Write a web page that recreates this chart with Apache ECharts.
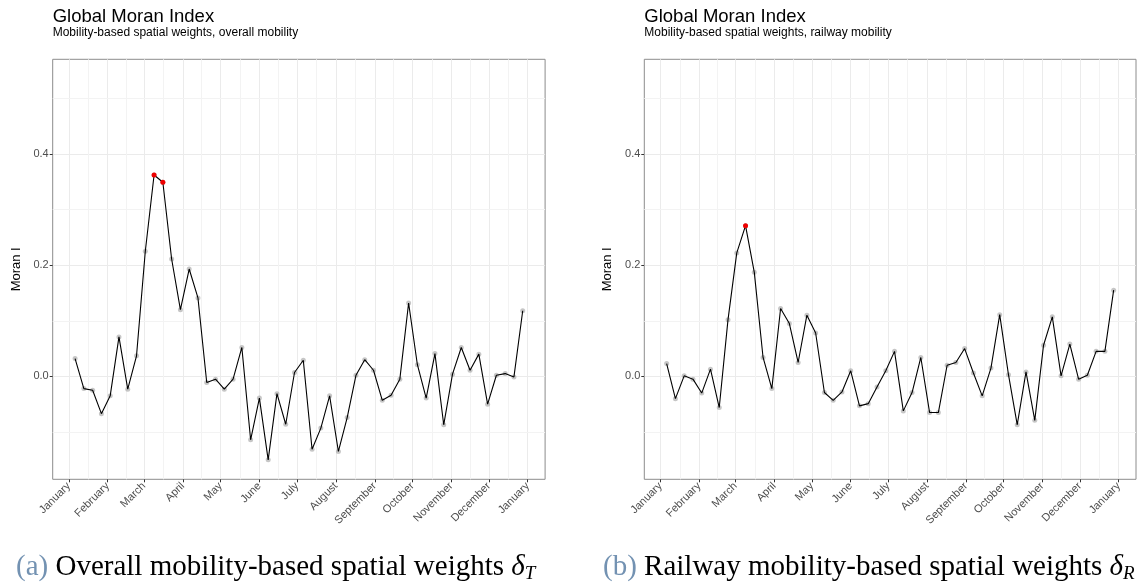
<!DOCTYPE html>
<html>
<head>
<meta charset="utf-8">
<script src="https://cdn.jsdelivr.net/npm/echarts@6/dist/echarts.min.js"></script>
<style>
  html, body { margin: 0; padding: 0; background: #ffffff; }
  #chart { width: 1137px; height: 588px; }
</style>
</head>
<body>
<div id="chart"></div>
<script>
// Weekly observation dates (Mondays of 2020)
const weeks = [
  '2020-01-06','2020-01-13','2020-01-20','2020-01-27',
  '2020-02-03','2020-02-10','2020-02-17','2020-02-24',
  '2020-03-02','2020-03-09','2020-03-16','2020-03-23','2020-03-30',
  '2020-04-06','2020-04-13','2020-04-20','2020-04-27',
  '2020-05-04','2020-05-11','2020-05-18','2020-05-25',
  '2020-06-01','2020-06-08','2020-06-15','2020-06-22','2020-06-29',
  '2020-07-06','2020-07-13','2020-07-20','2020-07-27',
  '2020-08-03','2020-08-10','2020-08-17','2020-08-24','2020-08-31',
  '2020-09-07','2020-09-14','2020-09-21','2020-09-28',
  '2020-10-05','2020-10-12','2020-10-19','2020-10-26',
  '2020-11-02','2020-11-09','2020-11-16','2020-11-23','2020-11-30',
  '2020-12-07','2020-12-14','2020-12-21','2020-12-28'
];

// Global Moran's I, overall mobility weights
const moranOverall = [
  0.032, -0.022, -0.025, -0.067, -0.035, 0.071, -0.023, 0.037, 0.225, 0.362,
  0.349, 0.211, 0.120, 0.193, 0.141, -0.011, -0.005, -0.023, -0.005, 0.052,
  -0.114, -0.039, -0.150, -0.031, -0.086, 0.007, 0.029, -0.131, -0.093, -0.035,
  -0.135, -0.074, 0.002, 0.030, 0.011, -0.043, -0.034, -0.005, 0.132, 0.021,
  -0.039, 0.041, -0.087, 0.004, 0.052, 0.011, 0.040, -0.050, 0.002, 0.005,
  -0.001, 0.118
];

// Global Moran's I, railway mobility weights
const moranRailway = [
  0.023, -0.040, 0.001, -0.005, -0.030, 0.013, -0.056, 0.102, 0.222, 0.271,
  0.187, 0.034, -0.022, 0.122, 0.095, 0.025, 0.110, 0.078, -0.029, -0.043,
  -0.028, 0.010, -0.053, -0.049, -0.019, 0.010, 0.045, -0.062, -0.029, 0.034,
  -0.065, -0.065, 0.020, 0.025, 0.050, 0.006, -0.035, 0.015, 0.111, 0.003,
  -0.087, 0.008, -0.079, 0.056, 0.107, 0.001, 0.058, -0.005, 0.002, 0.045,
  0.045, 0.155
];

// Weeks flagged in red
const overallFlagged = [9, 10];
const railwayFlagged = [9];

// Axis breaks
const monthStarts = [
  '2020-01-01','2020-02-01','2020-03-01','2020-04-01','2020-05-01','2020-06-01',
  '2020-07-01','2020-08-01','2020-09-01','2020-10-01','2020-11-01','2020-12-01',
  '2021-01-01'
];
const monthLabels = [
  'January','February','March','April','May','June','July','August',
  'September','October','November','December','January'
];
const yBreaks = [0, 0.2, 0.4];
const yMinorBreaks = [-0.1, 0.1, 0.3, 0.5];

const panelTitle = 'Global Moran Index';
const subtitles = [
  'Mobility-based spatial weights, overall mobility',
  'Mobility-based spatial weights, railway mobility'
];

// Dates are placed on a day-count scale (days since 2020-01-01)
const DAY = 86400000;
const origin = Date.parse('2020-01-01T00:00:00Z');
const toDay = s => (Date.parse(s + 'T00:00:00Z') - origin) / DAY;
const weekDay = weeks.map(toDay);
const monthDay = monthStarts.map(toDay);
const monthMid = monthDay.slice(0, -1).map((d, i) => (d + monthDay[i + 1]) / 2);

// x range padded by 5% on each side
const span = weekDay[weekDay.length - 1] - weekDay[0];
const xMin = weekDay[0] - 0.05 * span;
const xMax = weekDay[weekDay.length - 1] + 0.05 * span;
const yMin = -0.185, yMax = 0.57;

const grids = [
  { left: 52.7, top: 59.3, width: 492.4, height: 420 },
  { left: 644.3, top: 59.3, width: 491.7, height: 420 }
];

const gridColor = '#ebebeb';
const minorColor = '#f3f3f3';
const textGrey = '#4d4d4d';
const sans = 'Liberation Sans, Arial, Helvetica, sans-serif';
const serif = 'Liberation Serif, Times New Roman, serif';

function xAxisFor(i) {
  return {
    type: 'value', gridIndex: i, min: xMin, max: xMax,
    axisLine: { show: false, onZero: false },
    axisTick: { show: true, length: 3, lineStyle: { color: '#333333', width: 1 }, customValues: monthDay },
    axisLabel: {
      customValues: monthDay, rotate: 45, margin: 5,
      fontSize: 11, fontFamily: sans, color: textGrey,
      formatter: v => {
        const k = monthDay.indexOf(v);
        return k >= 0 ? monthLabels[k] : '';
      }
    },
    splitLine: { show: true, lineStyle: { color: gridColor, width: 1 } }
  };
}

function yAxisFor(i) {
  return {
    type: 'value', gridIndex: i, min: yMin, max: yMax,
    name: 'Moran I', nameLocation: 'middle', nameGap: 30, nameRotate: 90,
    nameTextStyle: { fontSize: 13, fontFamily: sans, color: '#000000' },
    axisLine: { show: false, onZero: false },
    axisTick: { show: true, length: 3, lineStyle: { color: '#333333', width: 1 }, customValues: yBreaks },
    axisLabel: {
      customValues: yBreaks, margin: 4, fontSize: 11, fontFamily: sans, color: textGrey,
      formatter: v => v.toFixed(1)
    },
    splitLine: { show: true, lineStyle: { color: gridColor, width: 1 } }
  };
}

function seriesFor(i, values, flagged) {
  const pts = weekDay.map((d, k) => [d, values[k]]);
  return [
    {
      type: 'line', xAxisIndex: i, yAxisIndex: i, data: [], silent: true, z: 0,
      markLine: {
        z: 0, silent: true, symbol: 'none', animation: false,
        label: { show: false },
        lineStyle: { color: minorColor, width: 1, type: 'solid' },
        data: monthMid.map(d => ({ xAxis: d })).concat(yMinorBreaks.map(v => ({ yAxis: v })))
      }
    },
    {
      type: 'scatter', xAxisIndex: i, yAxisIndex: i, data: pts, z: 2,
      symbolSize: 5,
      itemStyle: { color: 'rgba(160,160,160,0.6)', borderWidth: 0, opacity: 1 },
      animation: false
    },
    {
      type: 'line', xAxisIndex: i, yAxisIndex: i, data: pts, z: 3,
      showSymbol: false, lineStyle: { color: '#000000', width: 1.1 }, animation: false
    },
    {
      type: 'scatter', xAxisIndex: i, yAxisIndex: i, z: 5,
      data: flagged.map(k => pts[k]),
      symbolSize: 5, itemStyle: { color: '#ee0000', borderWidth: 0, opacity: 1 }, animation: false
    }
  ];
}

// Panel titles sit flush with each panel's left edge
const titles = [];
grids.forEach((g, i) => {
  titles.push({ text: panelTitle, left: g.left, top: 7, padding: 0,
    textStyle: { fontSize: 18.5, fontWeight: 'normal', fontFamily: sans, color: '#000000' } });
  titles.push({ text: subtitles[i], left: g.left, top: 27, padding: 0,
    textStyle: { fontSize: 12, fontWeight: 'normal', fontFamily: sans, color: '#000000' } });
});

// Sub-figure captions
const captionRich = {
  tag: { fontSize: 29, fontWeight: 'normal', fontFamily: serif, color: '#7392b2', lineHeight: 32, verticalAlign: 'middle' },
  body: { fontSize: 29, fontWeight: 'normal', fontFamily: serif, color: '#000000', lineHeight: 32, verticalAlign: 'middle' },
  sym: { fontSize: 29, fontWeight: 'normal', fontFamily: serif, fontStyle: 'italic', color: '#000000', lineHeight: 32, verticalAlign: 'middle' },
  sub: { fontSize: 19, fontWeight: 'normal', fontFamily: serif, fontStyle: 'italic', color: '#000000', lineHeight: 18, verticalAlign: 'bottom' }
};
titles.push({ text: '{tag|(a)}{body| Overall mobility-based spatial weights }{sym|δ}{sub|T}',
  left: 16, top: 551, padding: 0, textStyle: { fontWeight: 'normal', rich: captionRich } });
titles.push({ text: '{tag|(b)}{body| Railway mobility-based spatial weights }{sym|δ}{sub|R}',
  left: 603, top: 551, padding: 0, textStyle: { fontWeight: 'normal', rich: captionRich } });

const chart = echarts.init(document.getElementById('chart'), null, { renderer: 'canvas' });
chart.setOption({
  animation: false,
  backgroundColor: '#ffffff',
  title: titles,
  grid: grids.map(g => Object.assign({ show: true, borderColor: '#8c8c8c', borderWidth: 1,
    backgroundColor: 'transparent', containLabel: false, outerBoundsMode: 'none' }, g)),
  xAxis: [xAxisFor(0), xAxisFor(1)],
  yAxis: [yAxisFor(0), yAxisFor(1)],
  series: seriesFor(0, moranOverall, overallFlagged).concat(seriesFor(1, moranRailway, railwayFlagged))
});
</script>
</body>
</html>
